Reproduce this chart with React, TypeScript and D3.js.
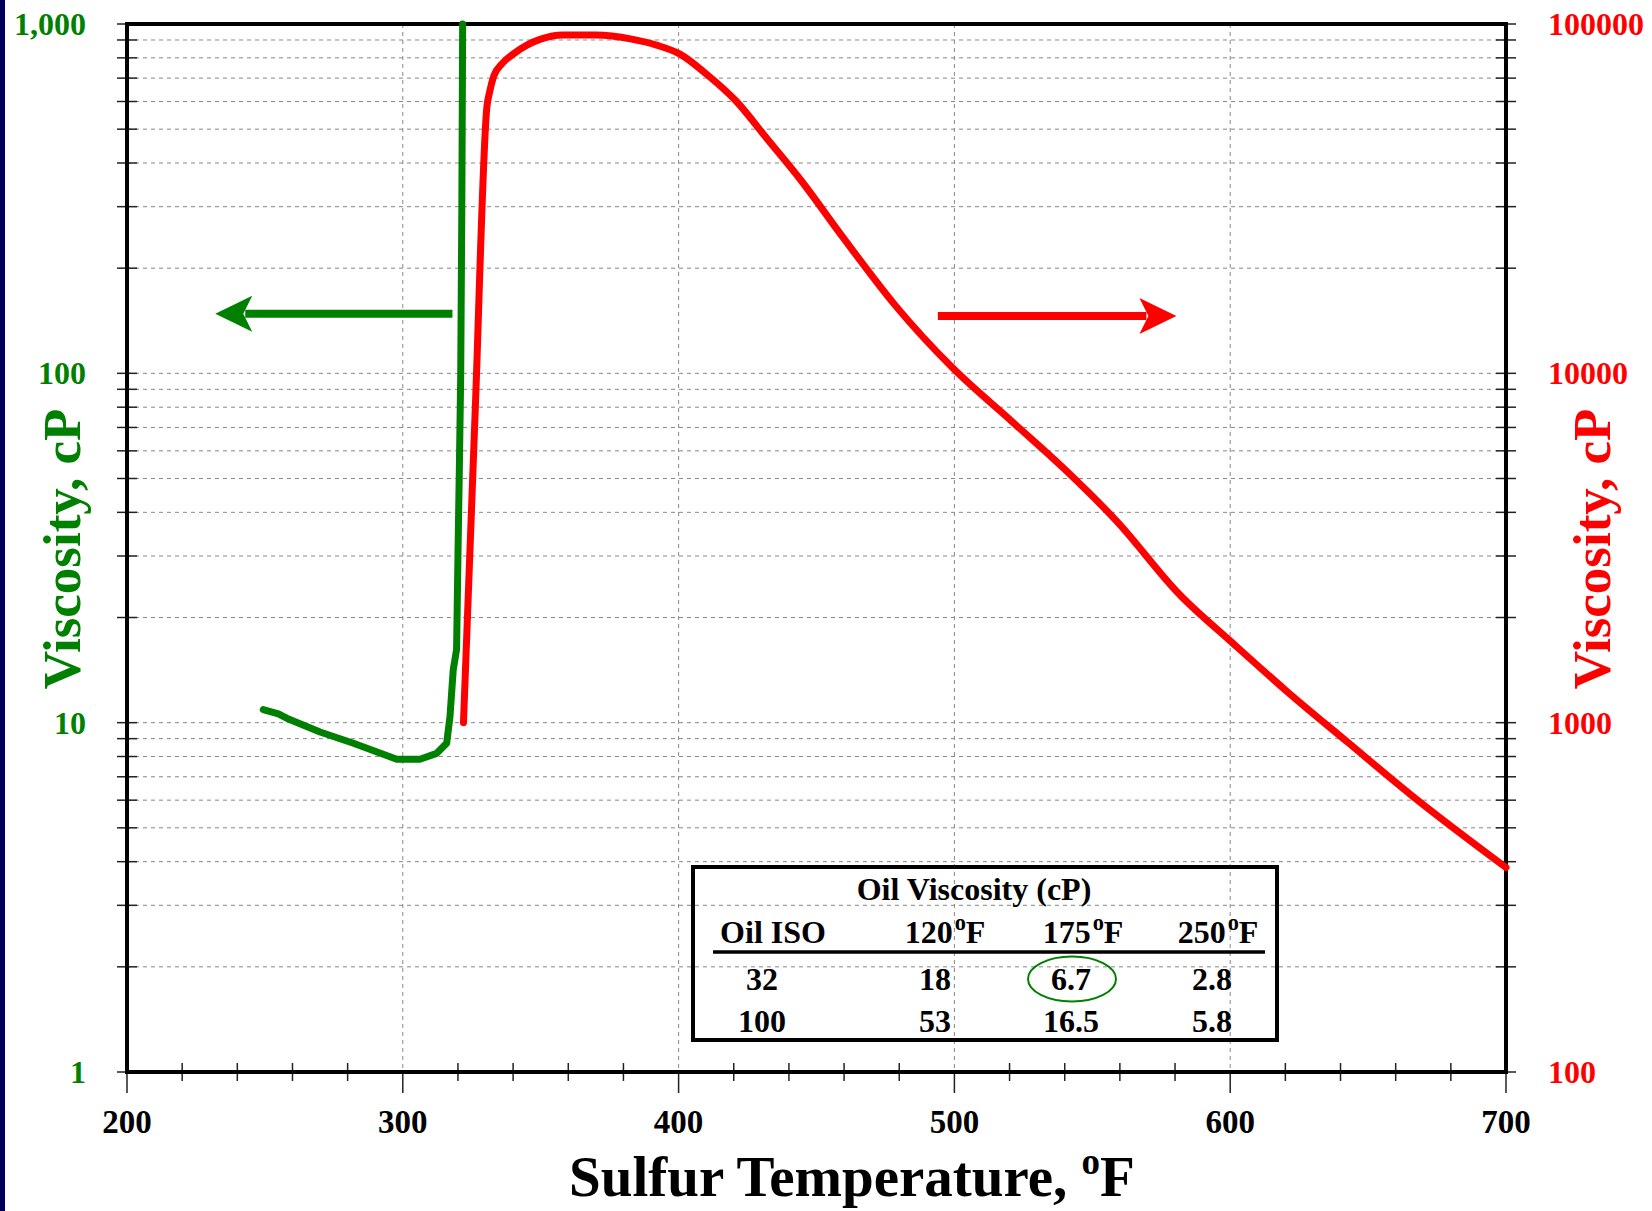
import * as d3 from "d3";

const W = 1652;
const H = 1211;
const FONT = "'Liberation Serif', 'Times New Roman', serif";
const GREEN = "#008000";
const RED = "#ff0000";

// sulfur viscosity, left axis (cP)
const greenTemp = [249.4, 254.9, 257.9, 270, 282.1, 297.8, 306.2, 312.3, 315.9, 317.1, 318.3, 319.5, 320, 320.6, 321, 321.4, 321.7];
const greenVisc = [10.9, 10.6, 10.3, 9.4, 8.73, 7.86, 7.86, 8.17, 8.73, 10.4, 14.2, 16.2, 30, 60, 100, 300, 1000];

// sulfur viscosity, right axis (cP)
const redTemp = [322, 326.2, 330.5, 331.5, 333, 336, 340, 345, 350, 358, 370, 383, 392, 400.5, 410, 421, 432, 444, 459.6, 478.7, 499.7, 520.7, 539.8, 558.9, 581.8, 600.9, 620, 642.9, 665.8, 700];
const redVisc = [1000, 7600, 58000, 64000, 71000, 77000, 82000, 87000, 90500, 93000, 93000, 90500, 87000, 82000, 72000, 60000, 47000, 36000, 24500, 15600, 10300, 7300, 5330, 3770, 2320, 1690, 1240, 875, 619, 385];

const xTicks = [200, 300, 400, 500, 600, 700];
const leftTicks = [1, 10, 100, 1000];
const leftTickLabels = ["1", "10", "100", "1,000"];
const rightTicks = [100, 1000, 10000, 100000];
const rightTickLabels = ["100", "1000", "10000", "100000"];

// arrows: [from temp, to temp, viscosity]
const greenArrow = [318, 232, 148];
const redArrow = [494, 580.5, 14600];

// table
const tableTitle = "Oil Viscosity (cP)";
const tableTemps = ["120", "175", "250"];
const oilIso = ["32", "100"];
const visc120 = ["18", "53"];
const visc175 = ["6.7", "16.5"];
const visc250 = ["2.8", "5.8"];

const x = d3.scaleLinear().domain([200, 700]).range([127, 1506]);
const yL = d3.scaleLog().domain([1, 1000]).range([1072, 24]);
const yR = d3.scaleLog().domain([100, 100000]).range([1072, 24]);

const minorVals: number[] = [];
for (let k = 0; k < 3; k++) for (let m = 1; m <= 9; m++) minorVals.push(m * Math.pow(10, k));
const gridVals = minorVals.filter(v => v > 1 && v < 1000);
const xMinor = d3.range(220, 700, 20).filter(v => v % 100 !== 0);

function arrowHead(tx: number, ty: number, dir: number) {
  return `M${tx},${ty} L${tx - dir * 37},${ty - 18} L${tx - dir * 28},${ty} L${tx - dir * 37},${ty + 18} Z`;
}

function Deg({ t }: { t: string }) {
  return (
    <>
      {t}
      <tspan fontSize="0.7em" dx="2" dy="-0.6em">o</tspan>
      <tspan dy="0.42em">F</tspan>
    </>
  );
}

export default function App() {
  const greenLine = d3.line<number>()
    .x((_, i) => x(greenTemp[i]))
    .y(d => yL(d));
  const redLine = d3.line<number>()
    .x((_, i) => x(redTemp[i]))
    .y(d => yR(d))
    .curve(d3.curveMonotoneX);

  const [x0, x1] = x.range();
  const [yb, yt] = yL.range();

  const ga = { x0: x(greenArrow[0]), x1: x(greenArrow[1]), y: yL(greenArrow[2]) };
  const ra = { x0: x(redArrow[0]), x1: x(redArrow[1]), y: yR(redArrow[2]) };

  const colX = [762, 935, 1071, 1212];
  const rowY = [990, 1032];
  const cols = [oilIso, visc120, visc175, visc250];

  return (
    <svg width={W} height={H} style={{ position: "absolute", left: 0, top: 0 }} fontFamily={FONT} fontWeight="bold">
      <rect x={0} y={0} width={W} height={H} fill="#fff" />
      <rect x={0} y={0} width={5} height={H} fill="#000058" />

      {/* grid */}
      <g stroke="#888" strokeWidth={1} strokeDasharray="4,4">
        {gridVals.map(v => (
          <line key={"h" + v} x1={x0} x2={x1} y1={yL(v)} y2={yL(v)} />
        ))}
        {xTicks.slice(1, -1).map(v => (
          <line key={"v" + v} x1={x(v)} x2={x(v)} y1={yt} y2={yb} />
        ))}
      </g>

      {/* ticks */}
      <g stroke="#222" strokeWidth={1.5}>
        {minorVals.concat([1000]).map(v => (
          <g key={"t" + v}>
            <line x1={x0 - 10} x2={v === 1 || v === 1000 ? x0 : x0 + 10} y1={yL(v)} y2={yL(v)} />
            <line x1={v === 1 || v === 1000 ? x1 : x1 - 10} x2={x1 + 10} y1={yL(v)} y2={yL(v)} />
          </g>
        ))}
        {xMinor.map(v => (
          <line key={"xm" + v} x1={x(v)} x2={x(v)} y1={yb - 9} y2={yb + 9} />
        ))}
        {xTicks.map(v => (
          <line key={"xt" + v} x1={x(v)} x2={x(v)} y1={yb} y2={yb + 21} />
        ))}
      </g>

      {/* frame */}
      <rect x={x0} y={yt} width={x1 - x0} height={yb - yt} fill="none" stroke="#000" strokeWidth={4} />

      {/* tick labels */}
      {xTicks.map(v => (
        <text key={"xl" + v} x={x(v)} y={1133} textAnchor="middle" fontSize={33} fill="#000">{v}</text>
      ))}
      {leftTicks.map((v, i) => (
        <text key={"ll" + v} x={86} y={yL(v)} dy="0.34em" textAnchor="end" fontSize={32} fill={GREEN}>{leftTickLabels[i]}</text>
      ))}
      {rightTicks.map((v, i) => (
        <text key={"rl" + v} x={1548} y={yR(v)} dy="0.34em" textAnchor="start" fontSize={32} fill={RED}>{rightTickLabels[i]}</text>
      ))}

      {/* axis titles */}
      <text x={852} y={1196} textAnchor="middle" fontSize={57} fill="#000">
        Sulfur Temperature,{" "}
        <tspan fontSize="0.65em" dy="-0.6em">o</tspan>
        <tspan dy="0.39em">F</tspan>
      </text>
      <text transform="translate(80,549) rotate(-90)" textAnchor="middle" fontSize={53} fill={GREEN}>Viscosity, cP</text>
      <text transform="translate(1610,549) rotate(-90)" textAnchor="middle" fontSize={53} fill={RED}>Viscosity, cP</text>

      {/* curves */}
      <path d={greenLine(greenVisc) || ""} fill="none" stroke={GREEN} strokeWidth={7} strokeLinejoin="round" strokeLinecap="round" />
      <path d={redLine(redVisc) || ""} fill="none" stroke={RED} strokeWidth={7} strokeLinejoin="round" strokeLinecap="round" />

      {/* arrows */}
      <line x1={ga.x0} x2={ga.x1 + 30} y1={ga.y} y2={ga.y} stroke={GREEN} strokeWidth={8} />
      <path d={arrowHead(ga.x1, ga.y, -1)} fill={GREEN} />
      <line x1={ra.x0} x2={ra.x1 - 30} y1={ra.y} y2={ra.y} stroke={RED} strokeWidth={8} />
      <path d={arrowHead(ra.x1, ra.y, 1)} fill={RED} />

      {/* table */}
      <g fill="#000" fontSize={32}>
        <rect x={693} y={867} width={584} height={173} fill="none" stroke="#000" strokeWidth={4} />
        <text x={974} y={900} textAnchor="middle">{tableTitle}</text>
        <text x={773} y={943} textAnchor="middle">Oil ISO</text>
        {tableTemps.map((t, i) => (
          <text key={t} x={[945, 1083, 1218][i]} y={943} textAnchor="middle"><Deg t={t} /></text>
        ))}
        <line x1={713} x2={1265} y1={952} y2={952} stroke="#000" strokeWidth={3.5} />
        {cols.map((col, ci) =>
          col.map((v, ri) => (
            <text key={ci + "-" + ri} x={colX[ci]} y={rowY[ri]} textAnchor="middle">{v}</text>
          ))
        )}
        <ellipse cx={1072} cy={979} rx={44} ry={22.5} fill="none" stroke={GREEN} strokeWidth={2} />
      </g>
    </svg>
  );
}
